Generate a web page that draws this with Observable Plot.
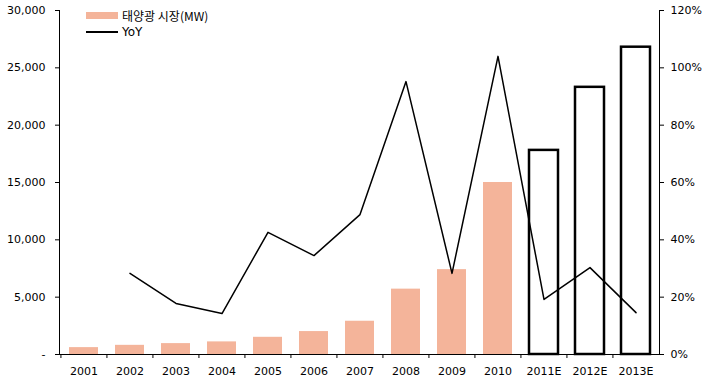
<!DOCTYPE html>
<html><head><meta charset="utf-8">
<script src="https://cdn.jsdelivr.net/npm/d3@7"></script>
<script src="https://cdn.jsdelivr.net/npm/@observablehq/plot@0.6"></script>
<style>
body{margin:0;background:#fff;}
#wrap{position:relative;width:711px;height:383px;font-family:"DejaVu Sans","Noto Sans CJK KR",sans-serif;}
.lg{position:absolute;left:86px;font-size:12px;color:#000;display:flex;align-items:center;}
.sw{width:32px;height:7px;background:#F4B49A;margin-right:4px;}
.ln{width:32px;height:0;border-top:2px solid #000;margin-right:4px;}
</style></head>
<body><div id="wrap">
<div class="lg" style="top:7px"><div class="sw"></div><span style="font-family:'Noto Sans CJK KR','DejaVu Sans';">태양광 시장(MW)</span></div>
<div class="lg" style="top:25px"><div class="ln"></div><span>YoY</span></div>
</div>
<script>
const years = ["2001","2002","2003","2004","2005","2006","2007","2008","2009","2010","2011E","2012E","2013E"];
const market = [600, 800, 950, 1100, 1500, 2000, 2900, 5700, 7400, 15000, 17800, 23300, 26800];
const yoy = [null, 28.3, 17.8, 14.3, 42.6, 34.5, 48.8, 95.2, 28.3, 104, 19.2, 30.3, 14.6];
const leftTicks = [0, 5000, 10000, 15000, 20000, 25000, 30000];
const rightTicks = [0, 20, 40, 60, 80, 100, 120];

const K = 30000 / 120;
const rows = years.map((y, i) => ({year: y, value: market[i], yoy: yoy[i], est: y.endsWith("E")}));
const actual = rows.filter(d => !d.est);
const est = rows.filter(d => d.est);
const lineRows = rows.filter(d => d.yoy != null);
const W = 711, ML = 59, MR = 52;
const half = (W - ML - MR) / years.length / 2;

const chart = Plot.plot({
  width: W, height: 383,
  marginLeft: ML, marginRight: MR, marginTop: 10, marginBottom: 29,
  x: {domain: years, paddingInner: 0.37, paddingOuter: 0.185},
  y: {domain: [0, 30000]},
  style: {fontFamily: "DejaVu Sans", fontSize: "11px", color: "#000", background: "transparent"},
  marks: [
    Plot.barY(actual, {x: "year", y: "value", fill: "#F4B49A"}),
    Plot.barY(est, {x: "year", y: "value", fill: "white", stroke: "black", strokeWidth: 2.5}),
    Plot.lineY(lineRows, {x: "year", y: d => d.yoy * K, stroke: "black", strokeWidth: 1.5}),
    Plot.ruleY([0], {stroke: "black", strokeWidth: 1.2}),
    Plot.frame({anchor: "left", stroke: "black"}),
    Plot.frame({anchor: "right", stroke: "black"}),
    Plot.ruleX(years, {x: d => d, dx: -half, y1: 0, y2: -350, stroke: "black"}),
    Plot.axisY({anchor: "left", ticks: leftTicks, tickSize: 4, tickPadding: 10, label: null,
      tickFormat: d => d === 0 ? "-" : d3.format(",")(d)}),
    Plot.axisY({anchor: "right", ticks: rightTicks.map(v => v * K), tickSize: 4, tickPadding: 7, label: null,
      tickFormat: d => Math.round(d / K) + "%"}),
    Plot.axisX({tickSize: 0, tickPadding: 13, label: null})
  ]
});
chart.style.position = "absolute";
chart.style.left = "0";
chart.style.top = "0";
document.getElementById("wrap").prepend(chart);
</script>
</body></html>
